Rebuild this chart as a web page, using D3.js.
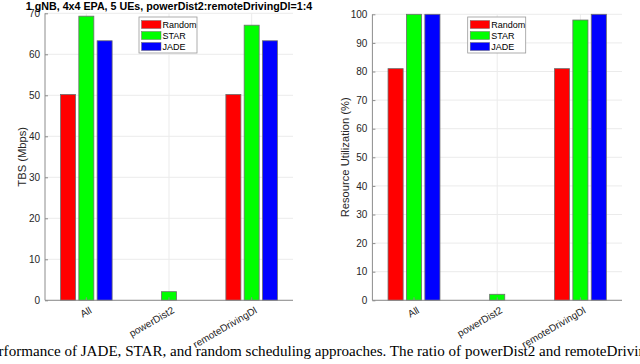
<!DOCTYPE html>
<html lang="en">
  <head>
    <meta charset="UTF-8" />
    <title>TBS and Resource Utilization</title>
    <script src="https://d3js.org/d3.v7.min.js"></script>
    <style>
      body {
        margin: 0;
        background: #fff;
      }
      svg {
        display: block;
        font-family: 'Liberation Sans', Arial, sans-serif;
      }
      .grid line {
        stroke: #ebebeb;
        stroke-width: 1px;
      }
      .axis path,
      .axis line {
        stroke: #8c8c8c;
      }
      .axis text {
        fill: #262626;
        font-size: 10px;
      }
      .bar {
        stroke: #6e6e6e;
        stroke-width: 0.8px;
      }
    </style>
  </head>
  <body>
    <div id="chart"></div>
    <script>
      // values
      const categories = ['All', 'powerDist2', 'remoteDrivingDl'];
      const schemes = ['Random', 'STAR', 'JADE'];
      const colors = ['#ff0000', '#00ff00', '#0000ff'];

      const tbsRandom = [50.2, 0, 50.2];
      const tbsStar = [69.3, 2.1, 67.1];
      const tbsJade = [63.3, 0, 63.3];

      const utilRandom = [81, 0, 81];
      const utilStar = [100, 2.1, 98];
      const utilJade = [100, 0, 100];

      const tbsTicks = [0, 10, 20, 30, 40, 50, 60, 70];
      const utilTicks = [0, 10, 20, 30, 40, 50, 60, 70, 80, 90, 100];

      const width = 640;
      const height = 364;

      const svg = d3
        .select('#chart')
        .append('svg')
        .attr('width', width)
        .attr('height', height);

      function drawPanel(opts) {
        const { left, right, top, bottom, yMax, ticks, series, yLabel, yLabelX, legendX, title } = opts;

        const g = svg.append('g');

        const x = d3.scaleBand().domain(categories).range([left, right]);
        const groupHalf = x.bandwidth() * 0.312;
        const x1 = d3
          .scaleBand()
          .domain(schemes)
          .range([-groupHalf, groupHalf])
          .paddingInner(0.18);
        const y = d3.scaleLinear().domain([0, yMax]).range([bottom, top]);

        // grid
        const grid = g.append('g').attr('class', 'grid');
        grid
          .selectAll('.gy')
          .data(ticks)
          .join('line')
          .attr('x1', left)
          .attr('x2', right)
          .attr('y1', (d) => y(d))
          .attr('y2', (d) => y(d));
        grid
          .selectAll('.gx')
          .data(categories)
          .join('line')
          .attr('x1', (d) => x(d) + x.bandwidth() / 2)
          .attr('x2', (d) => x(d) + x.bandwidth() / 2)
          .attr('y1', top)
          .attr('y2', bottom);

        // bars
        const rows = [];
        schemes.forEach((s, i) => {
          categories.forEach((c, j) => {
            rows.push({ scheme: s, cat: c, value: series[i][j], color: colors[i] });
          });
        });
        g.selectAll('.bar')
          .data(rows)
          .join('rect')
          .attr('class', 'bar')
          .attr('x', (d) => x(d.cat) + x.bandwidth() / 2 + x1(d.scheme))
          .attr('width', x1.bandwidth())
          .attr('y', (d) => y(d.value))
          .attr('height', (d) => bottom - y(d.value))
          .attr('fill', (d) => d.color);

        // axes
        const yAxis = g
          .append('g')
          .attr('class', 'axis')
          .attr('transform', `translate(${left},0)`)
          .call(d3.axisLeft(y).tickValues(ticks).tickSize(-3).tickPadding(5).tickSizeOuter(0));
        yAxis.select('.domain').attr('d', `M0,${top}V${bottom}`);

        const xAxis = g
          .append('g')
          .attr('class', 'axis')
          .attr('transform', `translate(0,${bottom})`)
          .call(d3.axisBottom(x).tickSize(-3).tickSizeOuter(0));
        xAxis.select('.domain').attr('d', `M${left},0H${right}`);
        xAxis
          .selectAll('text')
          .attr('text-anchor', 'end')
          .attr('dy', 0)
          .attr('y', 0)
          .attr('transform', 'translate(6,12) rotate(-30)');

        // y label
        g.append('text')
          .attr('transform', `translate(${yLabelX},${(top + bottom) / 2}) rotate(-90)`)
          .attr('text-anchor', 'middle')
          .attr('font-size', 11.2)
          .attr('fill', '#262626')
          .text(yLabel);

        if (title) {
          g.append('text')
            .attr('x', (left + right) / 2)
            .attr('y', 9.5)
            .attr('text-anchor', 'middle')
            .attr('font-size', 10.7)
            .attr('font-weight', 'bold')
            .attr('fill', '#000')
            .text(title);
        }

        // legend
        const lg = g.append('g').attr('transform', `translate(${legendX},17)`);
        lg.append('rect')
          .attr('width', 58)
          .attr('height', 36)
          .attr('fill', '#fff')
          .attr('stroke', '#9a9a9a')
          .attr('stroke-width', 0.8);
        schemes.forEach((s, i) => {
          const row = lg.append('g').attr('transform', `translate(2.5,${3.5 + i * 11})`);
          row.append('rect')
            .attr('width', 19.5)
            .attr('height', 8)
            .attr('fill', colors[i])
            .attr('stroke', '#6e6e6e')
            .attr('stroke-width', 0.5);
          row.append('text')
            .attr('x', 21)
            .attr('y', 7.5)
            .attr('font-size', 9)
            .attr('fill', '#000')
            .text(s);
        });
      }

      drawPanel({
        left: 45,
        right: 293,
        top: 13.3,
        bottom: 300.3,
        yMax: 70,
        ticks: tbsTicks,
        series: [tbsRandom, tbsStar, tbsJade],
        yLabel: 'TBS (Mbps)',
        yLabelX: 26,
        legendX: 139,
        title: '1 gNB, 4x4 EPA, 5 UEs, powerDist2:remoteDrivingDl=1:4',
      });

      drawPanel({
        left: 372.4,
        right: 622,
        top: 14.3,
        bottom: 300.3,
        yMax: 100,
        ticks: utilTicks,
        series: [utilRandom, utilStar, utilJade],
        yLabel: 'Resource Utilization (%)',
        yLabelX: 349,
        legendX: 467.7,
        title: null,
      });

      // caption of the paper figure, cut at both sides
      svg
        .append('text')
        .attr('x', -16.5)
        .attr('y', 355.5)
        .attr('font-family', "'Liberation Serif', 'Times New Roman', serif")
        .attr('font-size', 15.1)
        .attr('fill', '#000')
        .text(
          'Performance of JADE, STAR, and random scheduling approaches. The ratio of powerDist2 and remoteDrivingDl traffic'
        );
    </script>
  </body>
</html>
